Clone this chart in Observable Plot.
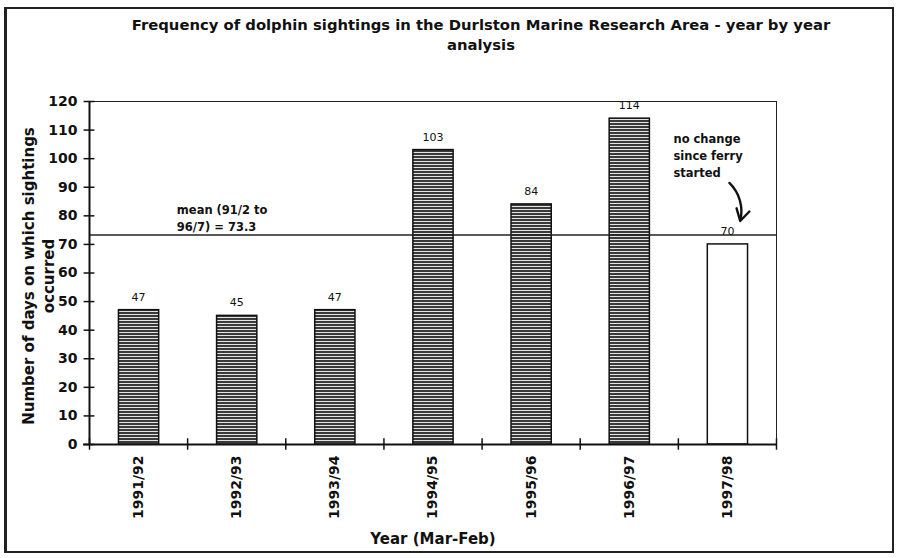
<!DOCTYPE html>
<html><head><meta charset="utf-8">
<script src="https://cdn.jsdelivr.net/npm/d3@7"></script>
<script src="https://cdn.jsdelivr.net/npm/@observablehq/plot@0.6"></script>
<style>
body{margin:0;background:#fff;}
#wrap{position:relative;width:897px;height:558px;overflow:hidden;}
#wrap svg{position:absolute;left:0;top:0;}
#border{position:absolute;left:4px;top:7px;width:885px;height:542px;border:2px solid #222;border-left-width:3px;pointer-events:none}
</style></head><body><div id="wrap"><div id="border"></div></div>
<script>
const categories = ["1991/92","1992/93","1993/94","1994/95","1995/96","1996/97","1997/98"];
const values = [47,45,47,103,84,114,70];
const patterned = [true,true,true,true,true,true,false];
const meanValue = 73.3;
const yTicks = [0,10,20,30,40,50,60,70,80,90,100,110,120];
const titleText = "Frequency of dolphin sightings in the Durlston Marine Research Area - year by year\nanalysis";
const yLabel = "Number of days on which sightings\noccurred";
const xLabel = "Year (Mar-Feb)";
const notes = [
  {x: 0.89, y: 79.6, text: "mean (91/2 to\n96/7) = 73.3"},
  {x: 5.95, y: 101.4, text: "no change\nsince ferry\nstarted"}
];
const arrowNote = [{x1: 6.52, y1: 91.5, x2: 6.63, y2: 78.2}];

const data = categories.map((c, i) => ({category: c, i, value: values[i], patterned: patterned[i]}));
const boundaries = d3.range(categories.length + 1);
const centers = data.map(d => d.i + 0.5);

const chart = Plot.plot({
  width: 897, height: 558,
  marginLeft: 89, marginRight: 121, marginTop: 101, marginBottom: 114,
  style: {fontFamily: "'DejaVu Sans', sans-serif", background: "transparent", color: "#111"},
  x: {domain: [0, categories.length], axis: null},
  y: {domain: [0, 120], axis: null},
  marks: [
    Plot.frame({stroke: "#222", strokeWidth: 1}),
    Plot.rect(data, {x1: d => d.i + 0.3, x2: d => d.i + 0.71, y1: 0, y2: "value",
      fill: d => d.patterned ? "url(#stripes)" : "white", stroke: "#111", strokeWidth: 1.5}),
    Plot.ruleY([meanValue], {stroke: "#222", strokeWidth: 1.6}),
    Plot.ruleX([0], {y1: 0, y2: 120, stroke: "#111", strokeWidth: 2}),
    Plot.ruleY([0], {x1: -0.06, x2: categories.length, stroke: "#111", strokeWidth: 2}),
    Plot.ruleY(yTicks, {x1: -0.055, x2: 0.055, stroke: "#111", strokeWidth: 1.5}),
    Plot.ruleX(boundaries, {y1: -2, y2: 2, stroke: "#111", strokeWidth: 1.5}),
    Plot.axisY(yTicks, {tickSize: 0, tickPadding: 12, fontSize: 14, fontWeight: "bold", label: null}),
    Plot.axisX(centers, {tickSize: 0, tickPadding: 11, tickRotate: -90, fontSize: 14, fontWeight: "bold",
      tickFormat: v => categories[Math.floor(v)], label: null}),
    Plot.text(data, {x: d => d.i + 0.5, y: "value", text: d => String(d.value), dy: -13, fontSize: 11}),
    Plot.text(notes, {x: "x", y: "y", text: "text", textAnchor: "start", fontSize: 11.5, fontWeight: "bold", lineHeight: 1.45}),
    Plot.arrow(arrowNote, {x1: "x1", y1: "y1", x2: "x2", y2: "y2", bend: 30, headLength: 14, strokeWidth: 2.4, stroke: "#111"}),
    Plot.text([titleText], {frameAnchor: "top", dx: 48, dy: -86, lineAnchor: "top", fontSize: 14.8, fontWeight: "bold", lineHeight: 1.37}),
    Plot.text([yLabel], {frameAnchor: "left", textAnchor: "middle", dx: -52, dy: 3, rotate: -90, fontSize: 15, fontWeight: "bold", lineHeight: 1.33}),
    Plot.text([xLabel], {frameAnchor: "bottom", dy: 99, fontSize: 15, fontWeight: "bold"})
  ]
});

const defs = d3.select(chart).insert("defs", ":first-child");
const pat = defs.append("pattern").attr("id", "stripes").attr("width", 4).attr("height", 3).attr("patternUnits", "userSpaceOnUse");
pat.append("rect").attr("width", 4).attr("height", 3).attr("fill", "#e4e4e4");
pat.append("rect").attr("width", 4).attr("height", 2).attr("fill", "#3a3a3a");

document.getElementById("wrap").appendChild(chart);
</script>
</body></html>
